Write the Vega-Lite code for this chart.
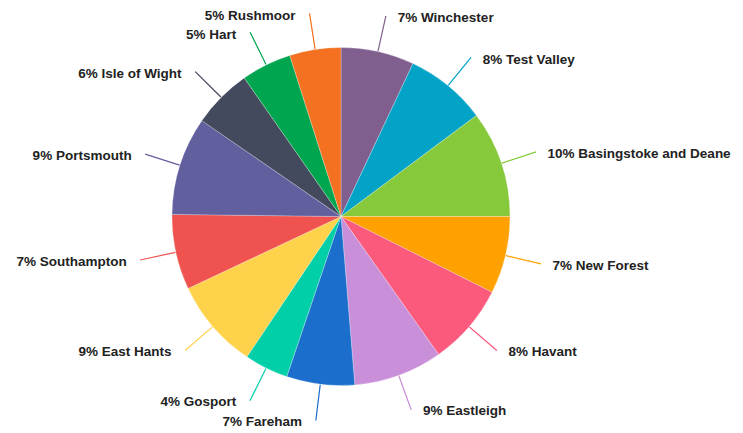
{
  "$schema": "https://vega.github.io/schema/vega-lite/v6.json",
  "width": 682,
  "height": 433,
  "autosize": {"type": "none"},
  "padding": {"left": 0, "top": 0, "right": 61, "bottom": 0},
  "background": "white",
  "config": {"view": {"stroke": null}},
  "data": {
    "values": [
      {"name": "Winchester", "value": 7.0, "label": "7% Winchester", "order": 1},
      {"name": "Test Valley", "value": 7.8, "label": "8% Test Valley", "order": 2},
      {"name": "Basingstoke and Deane", "value": 10.2, "label": "10% Basingstoke and Deane", "order": 3},
      {"name": "New Forest", "value": 7.4, "label": "7% New Forest", "order": 4},
      {"name": "Havant", "value": 7.8, "label": "8% Havant", "order": 5},
      {"name": "Eastleigh", "value": 8.5, "label": "9% Eastleigh", "order": 6},
      {"name": "Fareham", "value": 6.5, "label": "7% Fareham", "order": 7},
      {"name": "Gosport", "value": 4.2, "label": "4% Gosport", "order": 8},
      {"name": "East Hants", "value": 8.6, "label": "9% East Hants", "order": 9},
      {"name": "Southampton", "value": 7.2, "label": "7% Southampton", "order": 10},
      {"name": "Portsmouth", "value": 9.4, "label": "9% Portsmouth", "order": 11},
      {"name": "Isle of Wight", "value": 5.7, "label": "6% Isle of Wight", "order": 12},
      {"name": "Hart", "value": 4.8, "label": "5% Hart", "order": 13},
      {"name": "Rushmoor", "value": 4.9, "label": "5% Rushmoor", "order": 14}
    ]
  },
  "transform": [
    {"window": [{"op": "sum", "field": "value", "as": "cum"}], "sort": [{"field": "order"}], "frame": [null, 0]},
    {"calculate": "datum.cum - datum.value / 2", "as": "midA"},
    {"calculate": "datum.midA + 0.01", "as": "midB"}
  ],
  "layer": [
    {
      "mark": {"type": "arc", "outerRadius": 169, "stroke": "#ffffff", "strokeWidth": 0.5, "strokeOpacity": 0.5},
      "encoding": {
        "theta": {"field": "value", "type": "quantitative", "stack": true, "scale": {"domain": [0, 100]}},
        "order": {"field": "order", "type": "quantitative"},
        "color": {
          "field": "name", "type": "nominal", "legend": null,
          "scale": {
            "domain": ["Winchester", "Test Valley", "Basingstoke and Deane", "New Forest", "Havant", "Eastleigh", "Fareham", "Gosport", "East Hants", "Southampton", "Portsmouth", "Isle of Wight", "Hart", "Rushmoor"],
            "range": ["#805f8f", "#03a3c7", "#86c93b", "#ffa100", "#fb5a7d", "#c98fd8", "#1b6ecb", "#00cfa8", "#ffd24c", "#ef524f", "#625f9f", "#434a5d", "#00a64f", "#f37120"]
          }
        }
      }
    },
    {
      "mark": {"type": "arc", "innerRadius": 170, "outerRadius": 205, "filled": false, "strokeWidth": 1.1},
      "encoding": {
        "theta": {"field": "midA", "type": "quantitative", "stack": null, "scale": {"domain": [0, 100]}},
        "theta2": {"field": "midB"},
        "color": {"field": "name", "type": "nominal", "legend": null}
      }
    },
    {
      "transform": [{"filter": "datum.midA < 50"}],
      "mark": {"type": "text", "radius": 205, "align": "left", "baseline": "middle", "dx": 12, "dy": 2, "font": "Liberation Sans", "fontWeight": "bold", "fontSize": 13.5, "color": "#222222"},
      "encoding": {
        "theta": {"field": "midA", "type": "quantitative", "stack": null, "scale": {"domain": [0, 100]}},
        "text": {"field": "label"}
      }
    },
    {
      "transform": [{"filter": "datum.midA >= 50"}],
      "mark": {"type": "text", "radius": 205, "align": "right", "baseline": "middle", "dx": -14, "dy": 2, "font": "Liberation Sans", "fontWeight": "bold", "fontSize": 13.5, "color": "#222222"},
      "encoding": {
        "theta": {"field": "midA", "type": "quantitative", "stack": null, "scale": {"domain": [0, 100]}},
        "text": {"field": "label"}
      }
    }
  ]
}
